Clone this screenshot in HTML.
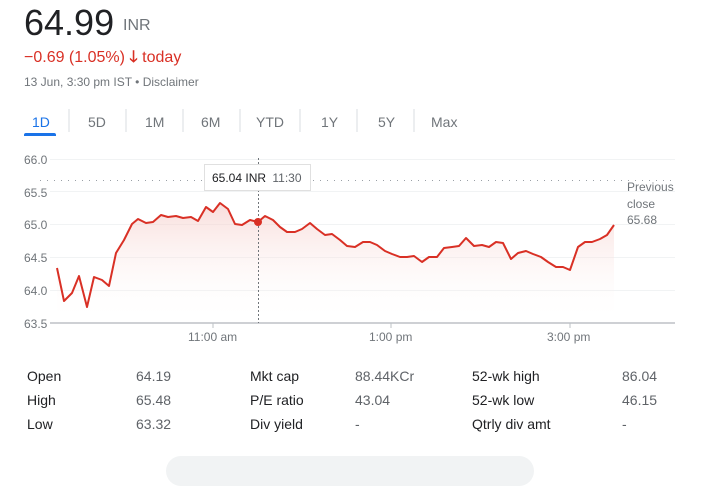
<!DOCTYPE html>
<html><head><meta charset="utf-8"><style>
body{margin:0;width:711px;height:468px;background:#fff;font-family:"Liberation Sans",Arial,sans-serif;position:relative;overflow:hidden}
.a{position:absolute;white-space:nowrap}
.g{color:#70757a}
.s{font-size:14px;color:#202124}
.v{font-size:14px;color:#5f6368}
</style></head><body>
<div class="a" style="left:24px;top:2px;font-size:36px;color:#202124">64.99</div>
<div class="a g" style="left:123px;top:17px;font-size:16px">INR</div>
<div class="a" style="left:24px;top:46px;font-size:16px;color:#d93025">−0.69 (1.05%) <span style="font-weight:bold">🡓</span> today</div>
<div class="a g" style="left:24px;top:75px;font-size:12px">13 Jun, 3:30 pm IST • Disclaimer</div>
<div class="a" style="left:32px;top:114px;font-size:14px;color:#1a73e8">1D</div>
<div class="a" style="left:24px;top:133px;width:32px;height:3px;background:#1a73e8;border-radius:2px 2px 0 0"></div>
<div class="a g" style="left:88px;top:114px;font-size:14px">5D</div>
<div class="a g" style="left:145px;top:114px;font-size:14px">1M</div>
<div class="a g" style="left:201px;top:114px;font-size:14px">6M</div>
<div class="a g" style="left:256px;top:114px;font-size:14px">YTD</div>
<div class="a g" style="left:321px;top:114px;font-size:14px">1Y</div>
<div class="a g" style="left:378px;top:114px;font-size:14px">5Y</div>
<div class="a g" style="left:431px;top:114px;font-size:14px">Max</div>
<svg class="a" style="left:0;top:0" width="711" height="468">
<g stroke="#dadce0" stroke-width="1">
<line x1="69" y1="109" x2="69" y2="132"/><line x1="126" y1="109" x2="126" y2="132"/><line x1="183" y1="109" x2="183" y2="132"/><line x1="240" y1="109" x2="240" y2="132"/><line x1="300" y1="109" x2="300" y2="132"/><line x1="357" y1="109" x2="357" y2="132"/><line x1="414" y1="109" x2="414" y2="132"/>
</g>
<defs><linearGradient id="gr" x1="0" y1="0" x2="0" y2="1"><stop offset="0" stop-color="#f4c7c3" stop-opacity="0.6"/><stop offset="1" stop-color="#fff" stop-opacity="0"/></linearGradient></defs>
<g stroke="#f1f3f4" stroke-width="1">
<line x1="50" y1="159.5" x2="675" y2="159.5"/><line x1="50" y1="191.5" x2="675" y2="191.5"/><line x1="50" y1="224.5" x2="675" y2="224.5"/><line x1="50" y1="257.5" x2="675" y2="257.5"/><line x1="50" y1="290.5" x2="675" y2="290.5"/>
</g>
<line x1="40" y1="180.5" x2="675" y2="180.5" stroke="#9aa0a6" stroke-dasharray="1,6"/>
<g font-size="12" fill="#70757a" text-anchor="start">
<text x="24" y="164">66.0</text><text x="24" y="197">65.5</text><text x="24" y="229">65.0</text><text x="24" y="262">64.5</text><text x="24" y="295">64.0</text><text x="24" y="328">63.5</text>
<text x="188" y="341">11:00 am</text><text x="369" y="341">1:00 pm</text><text x="547" y="341">3:00 pm</text>
<text x="627" y="191">Previous</text><text x="627" y="208">close</text><text x="627" y="224">65.68</text>
</g>
<polygon fill="url(#gr)" points="57,268 64,301 72,293 79,276 87,307 94,277 102,280 109,286 116,253 124,240 132,224 138,219 146,223 153,222 161,215 168,217 176,216 183,218 191,217 198,221 206,207 213,212 220,203 228,209 235,224 242,225 250,220 258,222 265,216 273,220 280,227 287,232 295,232 302,229 310,223 317,229 325,235 332,234 340,240 347,246 355,247 363,242 370,242 377,245 385,251 392,254 400,257 407,257 414,256 422,262 429,257 437,257 444,248 452,247 459,246 466,238 474,246 482,245 489,247 496,242 503,243 511,259 518,253 526,251 533,254 541,257 548,262 556,267 563,267 570,270 578,247 585,242 592,242 600,239 607,235 614,225 614,323 57,323"/>
<polyline fill="none" stroke="#d93025" stroke-width="2" stroke-linejoin="round" points="57,268 64,301 72,293 79,276 87,307 94,277 102,280 109,286 116,253 124,240 132,224 138,219 146,223 153,222 161,215 168,217 176,216 183,218 191,217 198,221 206,207 213,212 220,203 228,209 235,224 242,225 250,220 258,222 265,216 273,220 280,227 287,232 295,232 302,229 310,223 317,229 325,235 332,234 340,240 347,246 355,247 363,242 370,242 377,245 385,251 392,254 400,257 407,257 414,256 422,262 429,257 437,257 444,248 452,247 459,246 466,238 474,246 482,245 489,247 496,242 503,243 511,259 518,253 526,251 533,254 541,257 548,262 556,267 563,267 570,270 578,247 585,242 592,242 600,239 607,235 614,225"/>
<line x1="50" y1="323" x2="675" y2="323" stroke="#bdc1c6" stroke-width="1.5"/>
<g stroke="#bdc1c6"><line x1="213" y1="323" x2="213" y2="328"/><line x1="391" y1="323" x2="391" y2="328"/><line x1="570" y1="323" x2="570" y2="328"/></g>
<line x1="258.5" y1="158" x2="258.5" y2="323" stroke="#70757a" stroke-dasharray="2,2"/>
<circle cx="258" cy="222" r="4" fill="#d93025"/>
<rect x="204.5" y="164.5" width="106" height="26" fill="#fff" stroke="#e0e0e0"/>
<text x="212" y="182" font-size="12" fill="#202124">65.04 INR <tspan fill="#5f6368" dx="3">11:30</tspan></text>
</svg>
<div class="a s" style="left:27px;top:368px">Open</div><div class="a v" style="left:136px;top:368px">64.19</div>
<div class="a s" style="left:250px;top:368px">Mkt cap</div><div class="a v" style="left:355px;top:368px">88.44KCr</div>
<div class="a s" style="left:472px;top:368px">52-wk high</div><div class="a v" style="left:622px;top:368px">86.04</div>
<div class="a s" style="left:27px;top:392px">High</div><div class="a v" style="left:136px;top:392px">65.48</div>
<div class="a s" style="left:250px;top:392px">P/E ratio</div><div class="a v" style="left:355px;top:392px">43.04</div>
<div class="a s" style="left:472px;top:392px">52-wk low</div><div class="a v" style="left:622px;top:392px">46.15</div>
<div class="a s" style="left:27px;top:416px">Low</div><div class="a v" style="left:136px;top:416px">63.32</div>
<div class="a s" style="left:250px;top:416px">Div yield</div><div class="a v" style="left:355px;top:416px">-</div>
<div class="a s" style="left:472px;top:416px">Qtrly div amt</div><div class="a v" style="left:622px;top:416px">-</div>
<div class="a" style="left:166px;top:456px;width:368px;height:30px;background:#f1f3f4;border-radius:16px"></div>
</body></html>
